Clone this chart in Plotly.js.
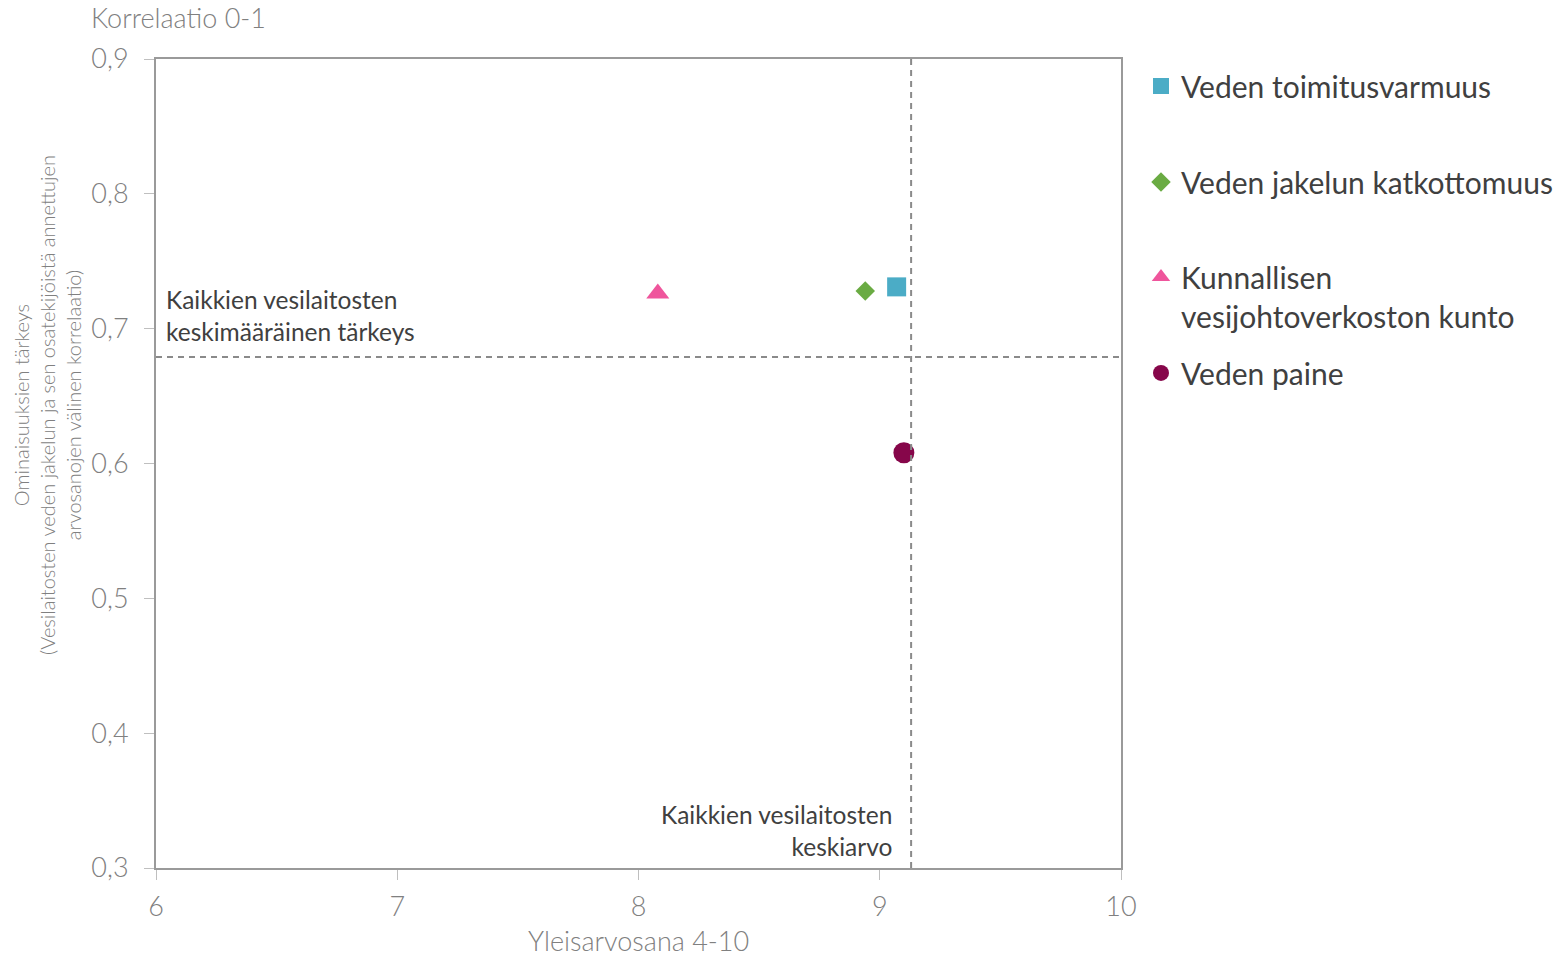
<!DOCTYPE html>
<html>
<head>
<meta charset="utf-8">
<script src="https://cdn.plot.ly/plotly-3.0.1.min.js"></script>
<style>html,body{margin:0;padding:0;background:#fff;}#chart{width:1560px;height:957px;}</style>
</head>
<body>
<div id="chart"></div>
<script>
// ---- data ----
const seriesNames = ["Veden toimitusvarmuus", "Veden jakelun katkottomuus", "Kunnallisen<br>vesijohtoverkoston kunto", "Veden paine"];
const gradeValues = [9.07, 8.94, 8.08, 9.10];        // Yleisarvosana 4-10
const correlationValues = [0.731, 0.728, 0.726, 0.608]; // Korrelaatio 0-1
const avgGrade = 9.13;       // Kaikkien vesilaitosten keskiarvo
const avgImportance = 0.679; // Kaikkien vesilaitosten keskimääräinen tärkeys
const xTicks = [6, 7, 8, 9, 10];
const yTicks = [0.3, 0.4, 0.5, 0.6, 0.7, 0.8, 0.9];

// ---- styles ----
const symbols = ["square", "diamond", "triangle-up", "circle"];
const colors = ["#4bacc6", "#6aab43", "#ef559c", "#86064a"];
const sizes = [19, 15, 20, 21];
const FONT = "Lato, 'Open Sans', sans-serif";
const legendY = [0.9666, 0.848, 0.7064, 0.612];
const legendNames = ["legend", "legend2", "legend3", "legend4"];

const traces = seriesNames.map((name, i) => ({
  type: "scatter", mode: "markers", name: name,
  x: [gradeValues[i]], y: [correlationValues[i]],
  marker: {symbol: symbols[i], color: colors[i], size: sizes[i], line: {width: 0}},
  legend: legendNames[i], hoverinfo: "x+y+name"
}));

const axisLine = "#9a9a9a";
const layout = {
  width: 1560, height: 957,
  margin: {l: 156, r: 439, t: 59, b: 89, autoexpand: false},
  paper_bgcolor: "#ffffff", plot_bgcolor: "#ffffff",
  separators: ", ",
  font: {family: FONT, color: "#808080"},
  xaxis: {
    range: [6, 10], tickvals: xTicks, ticktext: xTicks.map(String),
    showgrid: false, zeroline: false, showline: true, mirror: true,
    linecolor: axisLine, linewidth: 2,
    ticks: "outside", ticklen: 10, tickwidth: 1, tickcolor: "#bfbfbf",
    ticklabelstandoff: 4,
    tickfont: {size: 27, weight: 300, color: "#808080", family: FONT}, fixedrange: true
  },
  yaxis: {
    range: [0.3, 0.9], tickvals: yTicks, tickformat: ".1f",
    showgrid: false, zeroline: false, showline: true, mirror: true,
    linecolor: axisLine, linewidth: 2,
    ticks: "outside", ticklen: 10, tickwidth: 1, tickcolor: "#bfbfbf",
    ticklabelstandoff: 10,
    tickfont: {size: 27, weight: 300, color: "#808080", family: FONT}, fixedrange: true
  },
  shapes: [
    {type: "line", xref: "x", yref: "paper", x0: avgGrade, x1: avgGrade, y0: 0, y1: 1,
     line: {color: "#8a8a8a", width: 2, dash: "6px,5px"}},
    {type: "line", xref: "paper", yref: "y", x0: 0, x1: 1, y0: avgImportance, y1: avgImportance,
     line: {color: "#8a8a8a", width: 2, dash: "6px,5px"}}
  ],
  annotations: [
    {text: "Korrelaatio 0-1", xref: "paper", yref: "paper", x: -0.069, y: 1.0507,
     xanchor: "left", yanchor: "middle", showarrow: false,
     font: {size: 27, weight: 300, color: "#808080", family: FONT}},
    {text: "Yleisarvosana 4-10", xref: "paper", yref: "paper", x: 0.5, y: -0.089,
     xanchor: "center", yanchor: "middle", showarrow: false,
     font: {size: 27, weight: 300, color: "#808080", family: FONT}},
    {text: "Ominaisuuksien tärkeys<br>(Vesilaitosten veden jakelun ja sen osatekijöistä annettujen<br>arvosanojen välinen korrelaatio)",
     xref: "paper", yref: "paper", x: (47 - 156) / 965, y: (868 - 405) / 809,
     xanchor: "center", yanchor: "middle", textangle: -90, showarrow: false, align: "center",
     font: {size: 20, weight: 300, color: "#808080", family: FONT}},
    {text: "Kaikkien vesilaitosten<br>keskimääräinen tärkeys", xref: "paper", yref: "paper",
     x: (164 - 156) / 965, y: (868 - 315) / 809, xanchor: "left", yanchor: "middle",
     align: "left", showarrow: false, font: {size: 24.5, weight: 400, color: "#404040", family: FONT}},
    {text: "Kaikkien vesilaitosten<br>keskiarvo", xref: "paper", yref: "paper",
     x: (894 - 156) / 965, y: (868 - 830) / 809, xanchor: "right", yanchor: "middle",
     align: "right", showarrow: false, font: {size: 24.5, weight: 400, color: "#404040", family: FONT}}
  ],
  showlegend: true
};

legendNames.forEach((ln, i) => {
  layout[ln] = {
    x: (1141 - 156) / 965, y: legendY[i], xanchor: "left", yanchor: "middle",
    bgcolor: "rgba(0,0,0,0)", borderwidth: 0, valign: "top",
    font: {size: 30, weight: 400, color: "#404040", family: FONT},
    itemclick: false, itemdoubleclick: false
  };
});

Plotly.newPlot("chart", traces, layout, {displayModeBar: false, staticPlot: true});
</script>
</body>
</html>
